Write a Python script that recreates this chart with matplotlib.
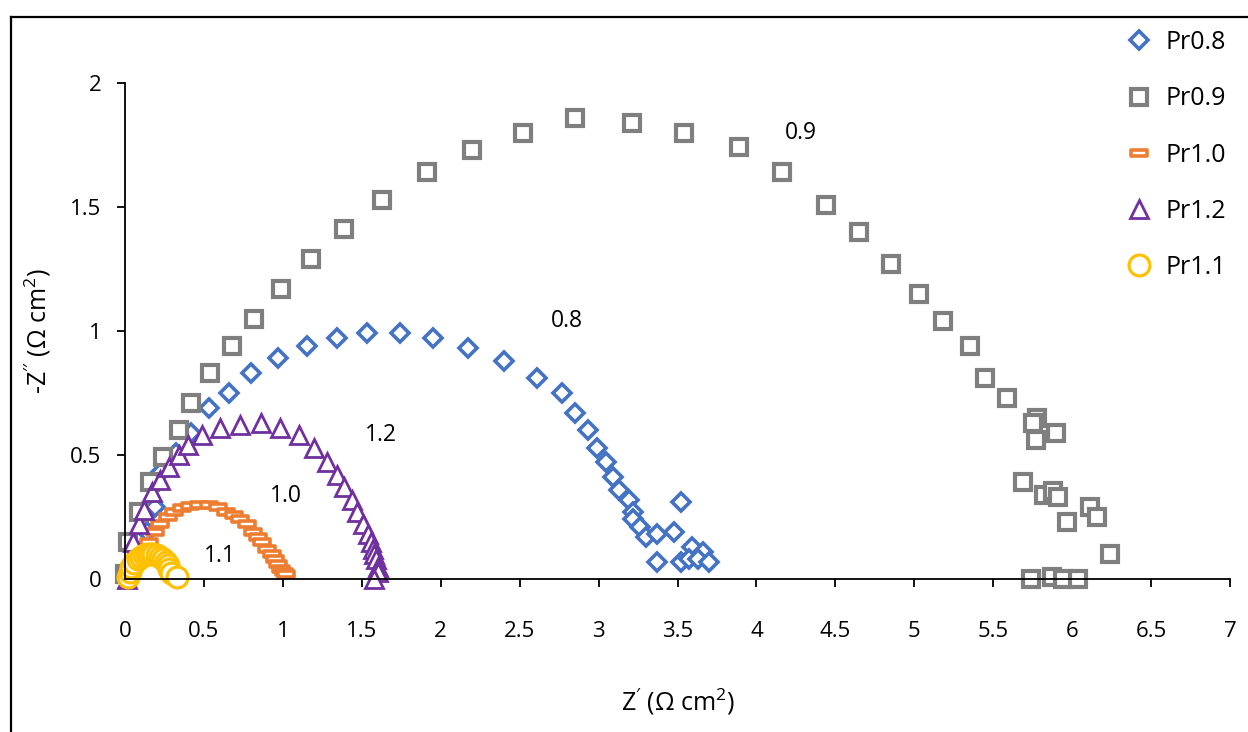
import matplotlib
matplotlib.use("Agg")
import matplotlib.pyplot as plt
from matplotlib.lines import Line2D
from matplotlib.path import Path

plt.rcParams['font.family'] = ['Open Sans', 'DejaVu Sans']
plt.rcParams['mathtext.fontset'] = 'custom'
plt.rcParams['mathtext.rm'] = 'Open Sans'
plt.rcParams['mathtext.it'] = 'Open Sans:italic'

# Nyquist data, Z' and -Z'' in ohm cm2
pr08_x = [0.01, 0.05, 0.10, 0.14, 0.19, 0.23, 0.32, 0.42, 0.53, 0.66, 0.80, 0.97, 1.15, 1.34,
          1.53, 1.74, 1.95, 2.17, 2.40, 2.61, 2.77, 2.85, 2.93, 2.99, 3.05, 3.09, 3.13, 3.19,
          3.22, 3.22, 3.26, 3.30, 3.37, 3.48, 3.52, 3.37, 3.52, 3.59, 3.66, 3.57, 3.63, 3.70]
pr08_y = [0.01, 0.05, 0.10, 0.19, 0.29, 0.43, 0.51, 0.59, 0.69, 0.75, 0.83, 0.89, 0.94, 0.97,
          0.99, 0.99, 0.97, 0.93, 0.88, 0.81, 0.75, 0.67, 0.60, 0.53, 0.47, 0.41, 0.36, 0.32,
          0.27, 0.24, 0.21, 0.17, 0.18, 0.19, 0.31, 0.07, 0.07, 0.13, 0.11, 0.08, 0.08, 0.07]

pr09_x = [0.00, 0.02, 0.09, 0.16, 0.24, 0.34, 0.42, 0.54, 0.68, 0.82, 0.99, 1.18, 1.39, 1.63,
          1.91, 2.20, 2.52, 2.85, 3.21, 3.54, 3.89, 4.16, 4.44, 4.65, 4.85, 5.03, 5.18, 5.35,
          5.45, 5.59, 5.78, 5.75, 5.77, 5.90, 5.69, 5.82, 5.88, 5.91, 5.97, 6.11, 6.16, 6.24,
          5.74, 5.87, 5.94, 6.04]
pr09_y = [0.02, 0.15, 0.27, 0.39, 0.49, 0.60, 0.71, 0.83, 0.94, 1.05, 1.17, 1.29, 1.41, 1.53,
          1.64, 1.73, 1.80, 1.86, 1.84, 1.80, 1.74, 1.64, 1.51, 1.40, 1.27, 1.15, 1.04, 0.94,
          0.81, 0.73, 0.65, 0.63, 0.56, 0.59, 0.39, 0.34, 0.355, 0.33, 0.23, 0.29, 0.25, 0.10,
          0.00, 0.01, 0.00, 0.00]

pr10_x = [0.03, 0.06, 0.10, 0.15, 0.19, 0.22, 0.27, 0.31, 0.36, 0.41, 0.47, 0.53, 0.59, 0.64,
          0.69, 0.73, 0.77, 0.81, 0.84, 0.87, 0.90, 0.93, 0.95, 0.97, 0.99, 1.01, 1.02]
pr10_y = [0.03, 0.07, 0.11, 0.15, 0.19, 0.22, 0.25, 0.27, 0.285, 0.295, 0.30, 0.30, 0.29, 0.27,
          0.26, 0.24, 0.22, 0.19, 0.17, 0.15, 0.12, 0.10, 0.08, 0.06, 0.04, 0.03, 0.02]

pr12_x = [0.01, 0.03, 0.05, 0.09, 0.12, 0.17, 0.22, 0.28, 0.34, 0.40, 0.49, 0.60, 0.73, 0.86,
          0.98, 1.10, 1.20, 1.28, 1.34, 1.39, 1.44, 1.47, 1.51, 1.54, 1.56, 1.57, 1.58, 1.59,
          1.60, 1.60, 1.58]
pr12_y = [0.00, 0.08, 0.15, 0.22, 0.28, 0.35, 0.40, 0.45, 0.50, 0.54, 0.58, 0.61, 0.62, 0.63,
          0.61, 0.58, 0.53, 0.47, 0.42, 0.37, 0.32, 0.27, 0.22, 0.18, 0.15, 0.12, 0.10, 0.08,
          0.05, 0.03, 0.00]

pr11_x = [0.02, 0.03, 0.04, 0.06, 0.08, 0.10, 0.12, 0.14, 0.16, 0.18, 0.20, 0.22, 0.24, 0.26,
          0.27, 0.28, 0.29, 0.33]
pr11_y = [0.01, 0.03, 0.05, 0.065, 0.08, 0.09, 0.095, 0.10, 0.10, 0.10, 0.095, 0.09, 0.08, 0.07,
          0.055, 0.04, 0.025, 0.01]

labels = ['Pr0.8', 'Pr0.9', 'Pr1.0', 'Pr1.2', 'Pr1.1']
notes = ['0.9', '0.8', '1.2', '1.0', '1.1']
note_x = [4.28, 2.80, 1.62, 1.02, 0.60]
note_y = [1.80, 1.04, 0.58, 0.335, 0.093]

# flat bar marker used for Pr1.0
dash = Path([(-1, -0.45), (1, -0.45), (1, 0.45), (-1, 0.45), (-1, -0.45)],
            [Path.MOVETO, Path.LINETO, Path.LINETO, Path.LINETO, Path.CLOSEPOLY])

styles = [
    dict(marker='D', ms=9.5, mew=2.6, mec='#4472C4'),
    dict(marker='s', ms=12, mew=3.0, mec='#7F7F7F'),
    dict(marker=dash, ms=11, mew=2.6, mec='#ED7D31'),
    dict(marker='^', ms=13.5, mew=2.0, mec='#7030A0'),
    dict(marker='o', ms=15, mew=2.3, mec='#FFC000'),
]
series = [(pr08_x, pr08_y), (pr09_x, pr09_y), (pr10_x, pr10_y), (pr12_x, pr12_y), (pr11_x, pr11_y)]

fig = plt.figure(figsize=(12.48, 7.32), dpi=100)
ax = fig.add_axes([125 / 1248, 1 - 579 / 732, (1230 - 125) / 1248, (579 - 83) / 732])

handles = []
for (xs, ys), st, lab in zip(series, styles, labels):
    h, = ax.plot(xs, ys, linestyle='none', mfc='white', clip_on=False, label=lab, **st)
    handles.append(h)

for t, x, y in zip(notes, note_x, note_y):
    ax.text(x, y, t, fontsize=16.5, ha='center', va='center')

ax.set_xlim(0, 7)
ax.set_ylim(0, 2)
ax.set_xticks([i * 0.5 for i in range(15)])
ax.set_xticklabels(['0', '0.5', '1', '1.5', '2', '2.5', '3', '3.5', '4', '4.5', '5', '5.5', '6', '6.5', '7'])
ax.set_yticks([0, 0.5, 1, 1.5, 2])
ax.set_yticklabels(['0', '0.5', '1', '1.5', '2'])
ax.spines['top'].set_visible(False)
ax.spines['right'].set_visible(False)
for s in ['left', 'bottom']:
    ax.spines[s].set_linewidth(1.3)
ax.tick_params(axis='x', direction='out', length=6, width=1.3, pad=24, labelsize=16)
ax.tick_params(axis='y', direction='out', length=6, width=1.3, pad=11, labelsize=16)

ax.set_xlabel("Z$^{\\prime}$ (Ω cm$^{2}$)", fontsize=18, labelpad=32)
ax.set_ylabel("-Z$^{\\prime\\prime}$ (Ω cm$^{2}$)", fontsize=18, labelpad=12)

fig.legend(handles=handles, labels=labels, loc='upper left', bbox_to_anchor=(1116 / 1248, 1 - 20 / 732),
           frameon=False, fontsize=18, numpoints=1, handlelength=1.0, handletextpad=0.6,
           labelspacing=1.25, borderaxespad=0)

# chart frame
fig.add_artist(Line2D([11 / 1248, 11 / 1248], [0, 1 - 17 / 732], color='black', lw=1.6))
fig.add_artist(Line2D([11 / 1248, 1], [1 - 17 / 732, 1 - 17 / 732], color='black', lw=1.6))

fig.savefig('out.png', dpi=100)
